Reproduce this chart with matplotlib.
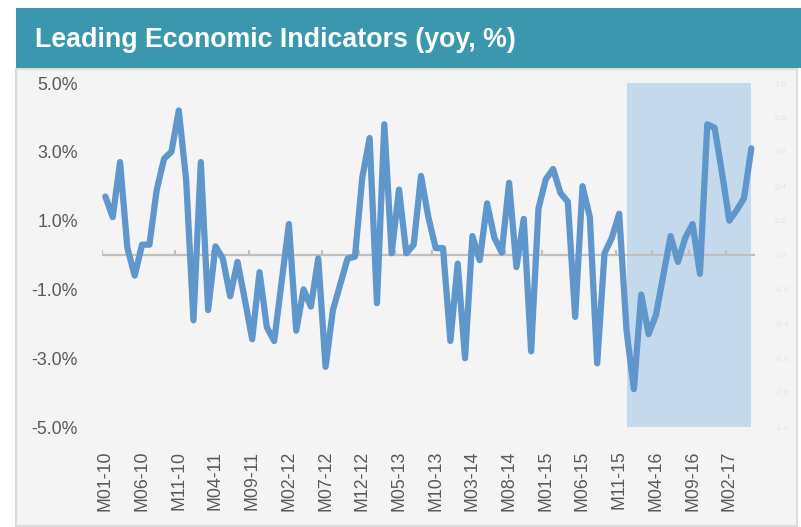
import matplotlib
matplotlib.use("Agg")
import matplotlib.pyplot as plt
from matplotlib.patches import Rectangle
from matplotlib import font_manager

# Monthly yoy change of the leading indicators, M01-10 .. M05-17
months = [f"M{m:02d}-{y:02d}" for y in range(10, 18) for m in range(1, 13)][:89]
lei_yoy = [1.7, 1.1, 2.7, 0.2, -0.6, 0.3, 0.3, 1.9, 2.8, 3.0,
           4.2, 2.2, -1.9, 2.7, -1.6, 0.25, -0.1, -1.2, -0.2, -1.3,
           -2.45, -0.5, -2.1, -2.5, -0.8, 0.9, -2.2, -1.0, -1.5, -0.1,
           -3.25, -1.6, -0.85, -0.1, -0.05, 2.25, 3.4, -1.4, 3.8, 0.05,
           1.9, 0.05, 0.3, 2.3, 1.1, 0.2, 0.2, -2.5, -0.25, -3.0,
           0.55, -0.15, 1.5, 0.5, 0.07, 2.1, -0.35, 1.05, -2.8, 1.35,
           2.2, 2.5, 1.8, 1.55, -1.8, 2.0, 1.1, -3.15, 0.05, 0.5,
           1.2, -2.2, -3.9, -1.15, -2.3, -1.75, -0.6, 0.55, -0.2, 0.5,
           0.9, -0.55, 3.8, 3.7, 2.4, 1.0, 1.3, 1.65, 3.1]

# highlighted period (secondary-axis area)
shade_start = "M12-15"
shade_end = "M05-17"

y_ticks = [-5, -3, -1, 1, 3, 5]
label_step = 5

W, H = 801, 527
names = {f.name for f in font_manager.fontManager.ttflist}
if "Liberation Sans Narrow" in names:
    FONT = ["Liberation Sans Narrow", "DejaVu Sans"]
    scale, tick_fs = 1.0, 14.5
else:
    FONT = ["Liberation Sans", "DejaVu Sans"]
    scale, tick_fs = 0.82, 12.8
plt.rcParams["font.family"] = FONT


def fx(px):
    return px / W


def fy(py):
    return 1 - py / H


fig = plt.figure(figsize=(W / 100, H / 100), dpi=100)

# panel and title banner
fig.add_artist(Rectangle((fx(16), fy(526)), fx(797) - fx(16), fy(69) - fy(526),
                         transform=fig.transFigure, facecolor="#f4f4f4",
                         edgecolor="#dcdcdc", linewidth=1.5, zorder=0))
fig.add_artist(Rectangle((fx(16), fy(68)), 1 - fx(16), fy(8) - fy(68),
                         transform=fig.transFigure, facecolor="#3b97ad",
                         edgecolor="none", zorder=1))
fig.text(fx(35), fy(40), "Leading Economic Indicators (yoy, %)", color="white",
         fontsize=23.5 * scale, fontweight="bold", va="center", ha="left")

ax = fig.add_axes([fx(101.7), fy(427), fx(755) - fx(101.7), fy(83) - fy(427)])
ax2 = ax.twinx()
ax.set_zorder(3)
ax.patch.set_visible(False)
ax2.patch.set_visible(False)

x = list(range(len(lei_yoy)))
i0, i1 = months.index(shade_start), months.index(shade_end)
ax2.fill_between(x[i0:i1 + 1], -1, 1, color="#c5d9ed", linewidth=0)
ax2.set_ylim(-1, 1)
ax2.set_yticks([v / 10 for v in range(-10, 11, 2)])
ax2.yaxis.set_major_formatter(plt.FormatStrFormatter("%.1f"))
ax2.tick_params(axis="y", length=0, pad=14, labelsize=6, labelcolor="#e4e4e4")

# zero line with category tick marks
ax.axhline(0, color="#bfbfbf", linewidth=1.6, zorder=1)
ax.vlines([k - 0.5 for k in range(0, len(x) + 1, label_step)], 0, 0.14,
          color="#bfbfbf", linewidth=1.6, zorder=1)
ax.plot(x, lei_yoy, color="#5f96cb", linewidth=4.5, solid_capstyle="round",
        solid_joinstyle="round", zorder=2)

ax.set_xlim(-0.5, len(x) - 0.5)
ax.set_ylim(-5, 5)
ax.set_yticks(y_ticks)
ax.set_yticklabels([f"{v:.1f}%" for v in y_ticks])
ax.set_xticks(x[::label_step])
ax.set_xticklabels(months[::label_step], rotation=90, va="top", ha="center")
ax.tick_params(axis="y", length=0, pad=17, labelsize=tick_fs, labelcolor="#595959")
ax.tick_params(axis="x", length=0, pad=17, labelsize=tick_fs, labelcolor="#595959")
for a in (ax, ax2):
    for s in a.spines.values():
        s.set_visible(False)
ax2.set_xlim(ax.get_xlim())

fig.savefig("out.png", dpi=100)
